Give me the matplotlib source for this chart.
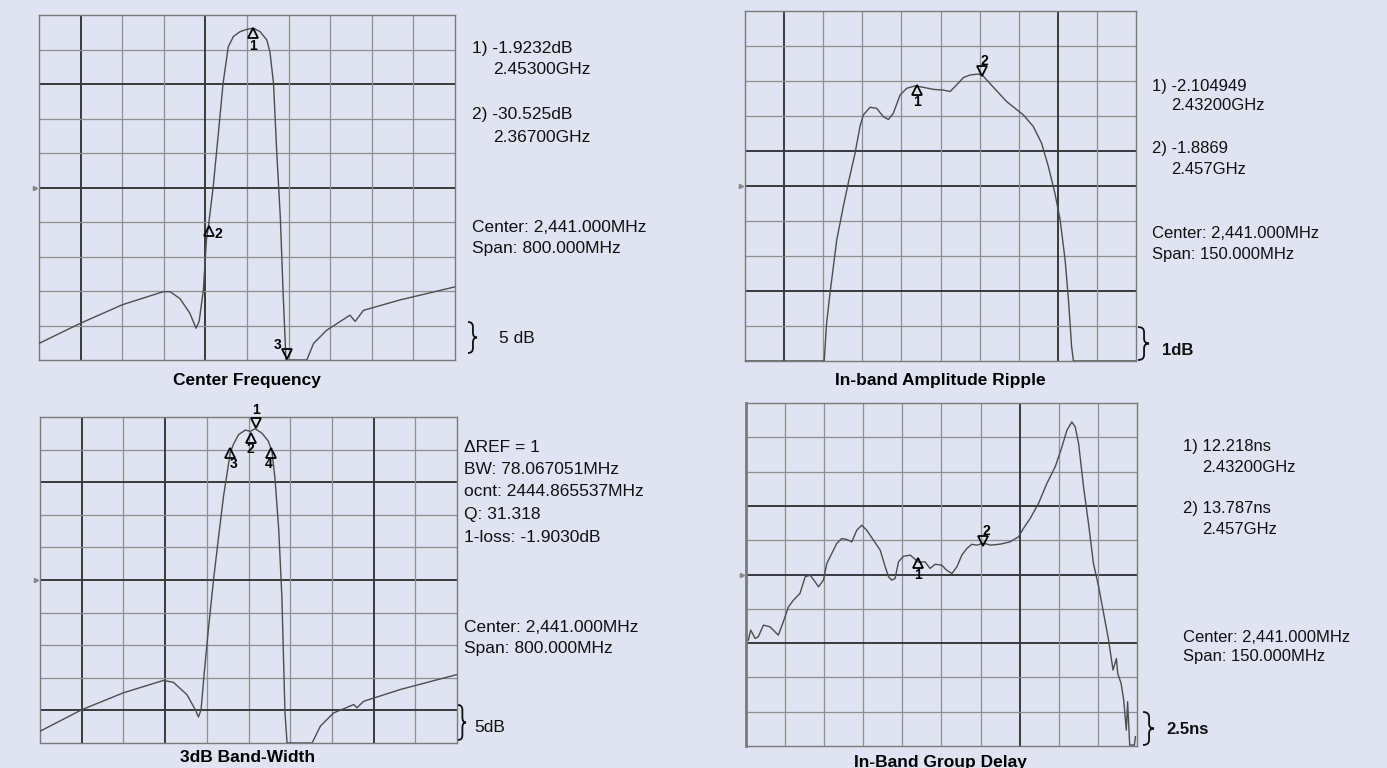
import numpy as np
import matplotlib.pyplot as plt
from matplotlib.transforms import offset_copy
from matplotlib.path import Path
from matplotlib.patches import PathPatch

# ==========================================
# DATA
# ==========================================
# Center Frequency  (x: MHz, y: dB)
cf_freq = [2041, 2120, 2201, 2280, 2293, 2312, 2331, 2343, 2349, 2357, 2363, 2367,
           2376, 2386, 2395, 2405, 2415, 2428, 2440, 2453, 2466, 2479, 2485, 2492,
           2498, 2505, 2511, 2516, 2556, 2569, 2594, 2639, 2649, 2665, 2735, 2841]
cf_db = [-47.6, -44.7, -42.0, -40.1, -40.1, -41.1, -43.2, -45.4, -44.4, -39.9, -32.6, -30.5,
         -24.9, -17.1, -9.9, -4.6, -3.1, -2.4, -2.1, -1.9, -2.4, -3.6, -5.3, -9.9,
         -19.6, -29.2, -41.3, -50.0, -50.0, -47.6, -45.7, -43.5, -44.4, -42.8, -41.3, -39.4]
cf_mk_freq = [2453, 2367, 2518]
cf_mk_val = [-1.92, -30.53, -50.0]
cf_mk_lab = ["1", "2", "3"]

# In-band Amplitude Ripple  (x: MHz, y: dB)
rp_freq = [2366, 2396.4, 2397.3, 2398.6, 2401.2, 2403.7, 2405.6, 2408.2, 2410.1, 2411.4,
           2414.0, 2416.5, 2419.1, 2421.0, 2422.9, 2425.5, 2428.0, 2431.2, 2434.4, 2438.3,
           2442.1, 2444.7, 2447.2, 2449.8, 2452.3, 2455.5, 2457.4, 2461.3, 2466.4, 2472.8,
           2476.6, 2479.8, 2482.4, 2484.9, 2486.9, 2488.8, 2490.1, 2491.3, 2492.0, 2516]
rp_db = [-10.0, -10.0, -8.92, -8.07, -6.54, -5.59, -4.92, -4.07, -3.30, -2.97,
         -2.75, -2.78, -3.02, -3.10, -2.92, -2.40, -2.21, -2.14, -2.18, -2.24,
         -2.26, -2.30, -2.11, -1.90, -1.83, -1.80, -1.86, -2.18, -2.59, -2.97,
         -3.30, -3.78, -4.45, -5.21, -5.97, -7.11, -8.26, -9.59, -10.0, -10.0]
rp_mk_freq = [2432, 2457]
rp_mk_val = [-2.105, -1.887]
rp_mk_lab = ["1", "2"]

# 3dB Band-Width  (x: MHz, y: dB)
bw_freq = [2041, 2121, 2201, 2278, 2297, 2323, 2339, 2345, 2350, 2356, 2364, 2374,
           2383, 2393, 2399, 2406, 2412, 2422, 2435, 2444, 2454, 2467, 2479, 2486,
           2492, 2499, 2505, 2511, 2515, 2563, 2579, 2604, 2643, 2649, 2662, 2732, 2841]
bw_db = [-48.2, -44.9, -42.3, -40.4, -40.7, -42.6, -44.9, -46.0, -44.9, -39.3, -32.6, -24.9,
         -18.8, -12.2, -9.1, -5.5, -4.2, -2.7, -2.0, -2.2, -1.8, -2.5, -3.7, -5.3,
         -9.6, -17.3, -27.5, -45.4, -50.0, -50.0, -47.4, -45.4, -44.1, -44.6, -43.6, -41.8, -39.5]
bw_mk_freq = [2455, 2444.9, 2405.8, 2483.9]
bw_mk_val = [-1.9, -2.0, -4.9, -4.9]
bw_mk_lab = ["1", "2", "3", "4"]

# In-Band Group Delay  (x: MHz, y: ns)
gd_freq = [2366.9, 2367.8, 2369.5, 2370.7, 2372.7, 2375.2, 2378.4, 2380.3, 2382.3, 2384.2,
           2386.7, 2388.7, 2390.6, 2392.5, 2393.8, 2395.7, 2397.0, 2398.9, 2400.8, 2402.7,
           2404.7, 2406.6, 2408.5, 2410.4, 2412.3, 2414.9, 2417.5, 2419.4, 2420.7, 2421.9,
           2423.2, 2424.5, 2426.4, 2429.0, 2432.2, 2434.7, 2436.6, 2438.6, 2441.1, 2443.0,
           2445.0, 2446.9, 2448.8, 2450.7, 2452.6, 2454.6, 2457.1, 2459.7, 2463.5, 2467.3,
           2470.5, 2472.4, 2475.0, 2478.2, 2481.4, 2484.6, 2487.2, 2489.1, 2491.0, 2492.3,
           2493.6, 2495.5, 2497.4, 2499.3, 2501.3, 2503.2, 2505.1, 2506.8, 2508.1, 2508.6,
           2509.9, 2510.9, 2511.9, 2512.4, 2513.2, 2515.0, 2515.4]
gd_ns = [6.72, 7.45, 6.84, 6.96, 7.81, 7.69, 7.08, 8.05, 9.15, 9.63,
         10.12, 11.33, 11.45, 10.97, 10.60, 11.09, 12.30, 13.03, 13.76, 14.12,
         14.05, 13.88, 14.73, 15.09, 14.73, 14.00, 13.27, 12.06, 11.33, 11.09,
         11.21, 12.42, 12.83, 12.91, 12.40, 12.42, 11.94, 12.25, 12.18, 11.81,
         11.57, 12.06, 12.91, 13.39, 13.70, 13.64, 13.79, 13.64, 13.71, 13.88,
         14.24, 14.85, 15.58, 16.67, 18.13, 19.34, 20.80, 22.01, 22.62, 22.25,
         21.04, 17.88, 15.21, 12.30, 10.60, 8.66, 6.72, 4.53, 5.38, 4.29,
         3.56, 2.35, 0.16, 2.23, -0.93, -0.93, -0.32]
gd_mk_freq = [2432, 2457]
gd_mk_val = [12.218, 13.787]
gd_mk_lab = ["1", "2"]

# ==========================================
# STYLE
# ==========================================
BG = '#dfe3f2'
TRACE = '#4d4d4d'
LIGHT_GRID = '#8f8f8f'
DARK_GRID = '#3a3a3a'
W, H = 1387, 768

plt.rcParams['font.family'] = ['Liberation Sans', 'DejaVu Sans']

fig = plt.figure(figsize=(W / 100, H / 100), dpi=100, facecolor=BG)


def fx(px):
    return px / W


def fy(py):
    return 1 - py / H


def make_panel(rect_px, xlim, ylim, dark_v, dark_h):
    l, t, r, b = rect_px
    ax = fig.add_axes([fx(l), fy(b), (r - l) / W, (b - t) / H])
    ax.set_facecolor(BG)
    ax.set_xlim(xlim)
    ax.set_ylim(ylim)
    ax.set_xticks([])
    ax.set_yticks([])
    xs = np.linspace(xlim[0], xlim[1], 11)
    ys = np.linspace(ylim[1], ylim[0], 11)  # counted from the top
    for i in range(1, 10):
        dv = i in dark_v
        ax.axvline(xs[i], color=DARK_GRID if dv else LIGHT_GRID,
                   lw=1.4 if dv else 0.9, zorder=1)
        dh = i in dark_h
        ax.axhline(ys[i], color=DARK_GRID if dh else LIGHT_GRID,
                   lw=1.4 if dh else 0.9, zorder=1)
    for s in ax.spines.values():
        s.set_color('#7a7a7a')
        s.set_linewidth(1.0)
    # reference position tick at left of the center line
    ax.plot([xlim[0]], [ys[5]], marker='>', ms=3, color='#888888',
            transform=offset_copy(ax.transData, fig=fig, x=-4, y=0, units='dots'),
            clip_on=False)
    return ax


def add_marker(ax, f, v, kind, label, dy_sym, dx_lab, dy_lab):
    tr = offset_copy(ax.transData, fig=fig, x=0, y=dy_sym, units='dots')
    ax.plot([f], [v], marker=kind, ms=7, mfc='none', mec='black', mew=1.3,
            transform=tr, clip_on=False, zorder=5)
    tr2 = offset_copy(ax.transData, fig=fig, x=dx_lab, y=dy_lab, units='dots')
    ax.text(f, v, label, transform=tr2, ha='center', va='center',
            fontsize=10, fontweight='bold', zorder=6)


def side_text(x, y, s, size=12.5, weight='normal'):
    fig.text(fx(x), fy(y), s, ha='left', va='center', fontsize=size,
             fontweight=weight, color='#111111')


def brace(x, yt, yb, w=9):
    # right curly brace "}" drawn in pixel coordinates
    ym = (yt + yb) / 2
    r = 5
    h = w * 0.55
    pts = [(x, yt), (x + h, yt), (x + h, yt + r),
           (x + h, ym - r),
           (x + h, ym), (x + w, ym),
           (x + h, ym), (x + h, ym + r),
           (x + h, yb - r),
           (x + h, yb), (x, yb)]
    codes = [Path.MOVETO, Path.CURVE3, Path.CURVE3,
             Path.LINETO,
             Path.CURVE3, Path.CURVE3,
             Path.CURVE3, Path.CURVE3,
             Path.LINETO,
             Path.CURVE3, Path.CURVE3]
    verts = [(fx(a), fy(b)) for a, b in pts]
    fig.add_artist(PathPatch(Path(verts, codes), transform=fig.transFigure,
                             fill=False, ec='#111111', lw=1.3))


# --- Center Frequency ---
ax1 = make_panel((39, 15, 455, 360), (2041, 2841), (-50, 0), [1, 4], [2, 5])
ax1.plot(cf_freq, cf_db, color=TRACE, lw=1.0, zorder=3)
add_marker(ax1, cf_mk_freq[0], cf_mk_val[0], '^', cf_mk_lab[0], -5, 0, -18)
add_marker(ax1, cf_mk_freq[1], cf_mk_val[1], '^', cf_mk_lab[1], -5, 10, -8)
add_marker(ax1, cf_mk_freq[2], cf_mk_val[2], 'v', cf_mk_lab[2], 6, -9, 15)

side_text(472, 48, "1) -1.9232dB")
side_text(493, 70, "2.45300GHz")
side_text(472, 115, "2) -30.525dB")
side_text(493, 137, "2.36700GHz")
side_text(472, 228, "Center: 2,441.000MHz")
side_text(472, 249, "Span: 800.000MHz")
brace(468, 322, 353)
side_text(499, 338, "5 dB")
fig.text(fx(247), fy(381), "Center Frequency", ha='center', va='center',
         fontsize=12.5, fontweight='bold')

# --- In-band Amplitude Ripple ---
ax2 = make_panel((745, 11, 1136, 361), (2366, 2516), (-10, 0), [1, 8], [4, 5, 8])
ax2.plot(rp_freq, rp_db, color=TRACE, lw=1.0, zorder=3)
add_marker(ax2, rp_mk_freq[0], rp_mk_val[0], '^', rp_mk_lab[0], -5, 0, -17)
add_marker(ax2, rp_mk_freq[1], rp_mk_val[1], 'v', rp_mk_lab[1], 6, 2, 16)

side_text(1152, 86, "1) -2.104949", 12)
side_text(1171, 106, "2.43200GHz", 12)
side_text(1152, 149, "2) -1.8869", 12)
side_text(1171, 169, "2.457GHz", 12)
side_text(1152, 234, "Center: 2,441.000MHz", 12)
side_text(1152, 254, "Span: 150.000MHz", 12)
brace(1138, 327, 360, 11)
side_text(1162, 350, "1dB", 12, 'bold')
fig.text(fx(940), fy(381), "In-band Amplitude Ripple", ha='center', va='center',
         fontsize=12.5, fontweight='bold')

# --- 3dB Band-Width ---
ax3 = make_panel((40, 417, 457, 743), (2041, 2841), (-50, 0), [1, 3, 8], [2, 5, 9])
ax3.plot(bw_freq, bw_db, color=TRACE, lw=1.0, zorder=3)
add_marker(ax3, bw_mk_freq[0], bw_mk_val[0], 'v', bw_mk_lab[0], 6, 0, 19)
add_marker(ax3, bw_mk_freq[1], bw_mk_val[1], '^', bw_mk_lab[1], -8, 0, -19)
add_marker(ax3, bw_mk_freq[2], bw_mk_val[2], '^', bw_mk_lab[2], -4, 3, -15)
add_marker(ax3, bw_mk_freq[3], bw_mk_val[3], '^', bw_mk_lab[3], -4, -2, -15)

side_text(464, 448, "\u0394REF = 1")
side_text(464, 470, "BW: 78.067051MHz")
side_text(464, 492, "ocnt: 2444.865537MHz")
side_text(464, 515, "Q: 31.318")
side_text(464, 537, "1-loss: -1.9030dB")
side_text(464, 627, "Center: 2,441.000MHz")
side_text(464, 649, "Span: 800.000MHz")
brace(458, 705, 740, 8)
side_text(474, 727, "5dB")
fig.text(fx(248), fy(757), "3dB Band-Width", ha='center', va='center',
         fontsize=12.5, fontweight='bold')

# --- In-Band Group Delay ---
ax4 = make_panel((746, 403, 1137, 746), (2366, 2516), (-1, 24), [7], [3, 5, 7])
ax4.spines['left'].set_linewidth(2.0)
ax4.plot(gd_freq, gd_ns, color=TRACE, lw=1.0, zorder=3)
add_marker(ax4, gd_mk_freq[0], gd_mk_val[0], '^', gd_mk_lab[0], 2, 0, -10)
add_marker(ax4, gd_mk_freq[1], gd_mk_val[1], 'v', gd_mk_lab[1], 2, 3, 12)

side_text(1183, 447, "1) 12.218ns", 12)
side_text(1202, 467, "2.43200GHz", 12)
side_text(1183, 509, "2) 13.787ns", 12)
side_text(1202, 529, "2.457GHz", 12)
side_text(1183, 637, "Center: 2,441.000MHz", 12)
side_text(1183, 657, "Span: 150.000MHz", 12)
brace(1143, 712, 745, 11)
side_text(1166, 729, "2.5ns", 12, 'bold')
fig.text(fx(940), fy(763), "In-Band Group Delay", ha='center', va='center',
         fontsize=12.5, fontweight='bold')

fig.savefig("out.png", dpi=100, facecolor=BG)
